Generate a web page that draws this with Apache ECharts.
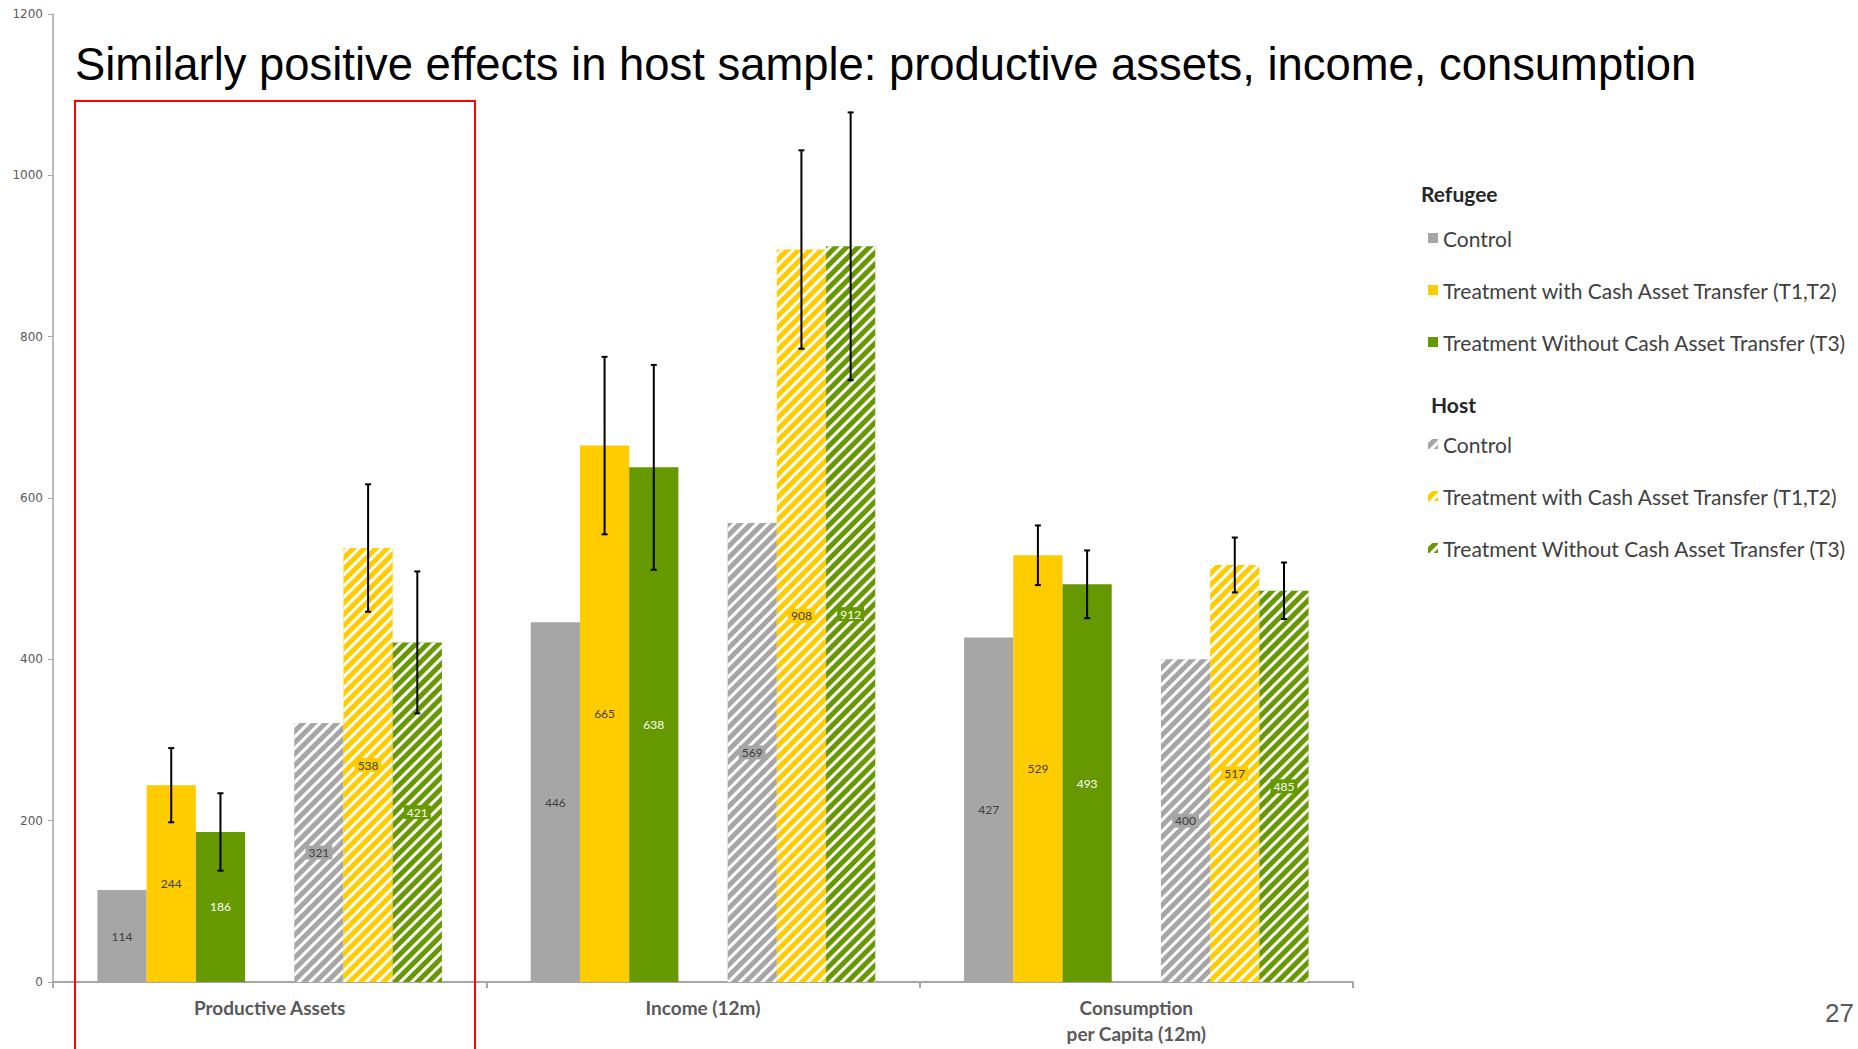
<!DOCTYPE html>
<html>
<head>
<meta charset="utf-8">
<title>Similarly positive effects in host sample</title>
<script src="https://cdn.jsdelivr.net/npm/echarts@6/dist/echarts.min.js"></script>
<style>
  html, body { margin: 0; padding: 0; background: #ffffff; }
  #chart { width: 1858px; height: 1049px; }
</style>
</head>
<body>
<div id="chart"></div>
<script>
// Outcome groups on the x axis
const categories = ['Productive Assets', 'Income (12m)', 'Consumption\nper Capita (12m)'];

// Mean values per arm
const refugeeControl = [114, 446, 427];
const refugeeCash = [244, 665, 529];
const refugeeNoCash = [186, 638, 493];
const hostControl = [321, 569, 400];
const hostCash = [538, 908, 517];
const hostNoCash = [421, 912, 485];

// Half-width of the confidence interval for each treatment arm
const refugeeCashErr = [46, 110, 37];
const refugeeNoCashErr = [48, 127, 42];
const hostCashErr = [79, 123, 34];
const hostNoCashErr = [88, 166, 35];

// Value axis
const yMin = 0;
const yMax = 1200;
const yStep = 200;

const GRAY = '#A6A6A6';
const YELLOW = '#FFCC00';
const GREEN = '#669900';
const DARK = '#404040';

const CAT_GAP = 0.205;      // share of each category left empty
const SLOTS = 7;            // 3 refugee bars, a spacer, 3 host bars

const stripes = {
  symbol: 'rect',
  symbolSize: 1,
  color: '#ffffff',
  dashArrayX: [1, 0],
  dashArrayY: [3, 5],
  rotation: -Math.PI / 4
};

function barSeries(name, data, color, textColor, hatched) {
  return {
    name: name,
    type: 'bar',
    data: data,
    barGap: '0%',
    barCategoryGap: (CAT_GAP * 100) + '%',
    itemStyle: hatched ? { color: color, decal: stripes } : { color: color },
    label: {
      show: true,
      position: 'inside',
      fontFamily: 'Lato',
      fontSize: 12,
      color: textColor,
      backgroundColor: hatched ? color : 'transparent',
      padding: hatched ? [1, 3] : 0
    },
    emphasis: { disabled: true }
  };
}

// Error bar items: [category index, bar slot, value, half-width]
const errorData = [];
function addErrors(values, errs, slot) {
  values.forEach(function (v, i) { errorData.push([i, slot, v, errs[i]]); });
}
addErrors(refugeeCash, refugeeCashErr, 1);
addErrors(refugeeNoCash, refugeeNoCashErr, 2);
addErrors(hostCash, hostCashErr, 5);
addErrors(hostNoCash, hostNoCashErr, 6);

function renderErrorBar(params, api) {
  const cat = api.value(0), slot = api.value(1), v = api.value(2), e = api.value(3);
  const band = api.size([1, 0])[0];
  const bw = band * (1 - CAT_GAP) / SLOTS;
  const cx = api.coord([cat, v])[0] + (slot - (SLOTS - 1) / 2) * bw;
  const yT = api.coord([cat, v + e])[1];
  const yB = api.coord([cat, v - e])[1];
  const cap = 3;
  const st = { stroke: '#000000', lineWidth: 2 };
  return {
    type: 'group',
    children: [
      { type: 'line', shape: { x1: cx, y1: yT, x2: cx, y2: yB }, style: st },
      { type: 'line', shape: { x1: cx - cap, y1: yT, x2: cx + cap, y2: yT }, style: st },
      { type: 'line', shape: { x1: cx - cap, y1: yB, x2: cx + cap, y2: yB }, style: st }
    ]
  };
}

const refugeeNames = ['Refugee Control', 'Refugee Treatment with Cash Asset Transfer (T1,T2)', 'Refugee Treatment Without Cash Asset Transfer (T3)'];
const hostNames = ['Host Control', 'Host Treatment with Cash Asset Transfer (T1,T2)', 'Host Treatment Without Cash Asset Transfer (T3)'];

function legendBlock(names, top) {
  return {
    data: names,
    orient: 'vertical',
    left: 1428,
    top: top,
    padding: 0,
    itemGap: 30,
    itemWidth: 10,
    itemHeight: 10,
    icon: 'rect',
    selectedMode: false,
    formatter: function (n) { return n.replace(/^(Refugee|Host) /, ''); },
    textStyle: { fontFamily: 'Lato', fontSize: 21, lineHeight: 22, color: DARK }
  };
}

const chart = echarts.init(document.getElementById('chart'), null, { renderer: 'svg' });

chart.setOption({
  animation: false,
  backgroundColor: '#ffffff',
  grid: { left: 53, right: 505, top: 14, bottom: 67, containLabel: false },
  xAxis: {
    type: 'category',
    data: categories,
    axisLine: { lineStyle: { color: GRAY, width: 2 } },
    axisTick: { show: true, length: 6, lineStyle: { color: GRAY, width: 2 } },
    axisLabel: {
      fontFamily: 'Lato',
      fontWeight: 'bold',
      fontSize: 19,
      lineHeight: 26,
      color: '#595959',
      margin: 12
    }
  },
  yAxis: {
    type: 'value',
    min: yMin,
    max: yMax,
    interval: yStep,
    splitLine: { show: false },
    axisLine: { show: true, lineStyle: { color: GRAY, width: 1.5 } },
    axisTick: { show: true, length: 5, lineStyle: { color: GRAY } },
    axisLabel: {
      fontFamily: 'DejaVu Sans', fontSize: 12, color: '#595959', margin: 10,
      formatter: function (v) { return String(v); }
    }
  },
  legend: [legendBlock(refugeeNames, 227), legendBlock(hostNames, 433)],
  series: [
    barSeries(refugeeNames[0], refugeeControl, GRAY, DARK, false),
    barSeries(refugeeNames[1], refugeeCash, YELLOW, DARK, false),
    barSeries(refugeeNames[2], refugeeNoCash, GREEN, '#ffffff', false),
    { name: 'spacer', type: 'bar', data: [null, null, null], barGap: '0%', barCategoryGap: (CAT_GAP * 100) + '%', silent: true },
    barSeries(hostNames[0], hostControl, GRAY, DARK, true),
    barSeries(hostNames[1], hostCash, YELLOW, DARK, true),
    barSeries(hostNames[2], hostNoCash, GREEN, '#ffffff', true),
    {
      name: 'ci',
      type: 'custom',
      renderItem: renderErrorBar,
      data: errorData,
      encode: { x: 0, y: 2 },
      z: 10,
      clip: false,
      silent: true
    }
  ],
  graphic: [
    {
      type: 'text',
      left: 75, top: 42,
      style: {
        text: 'Similarly positive effects in host sample: productive assets, income, consumption',
        font: '45.4px "Liberation Sans", Arial, sans-serif',
        fill: '#000000'
      }
    },
    {
      type: 'rect',
      shape: { x: 75, y: 101, width: 400, height: 1000 },
      style: { fill: 'none', stroke: '#FF0000', lineWidth: 2 },
      z: 20
    },
    {
      type: 'text',
      left: 1421, top: 183,
      style: { text: 'Refugee', font: 'bold 21px Lato', fill: '#262626' }
    },
    {
      type: 'text',
      left: 1431, top: 394,
      style: { text: 'Host', font: 'bold 21px Lato', fill: '#262626' }
    },
    {
      type: 'text',
      right: 4, top: 1000,
      style: { text: '27', font: '26px "Liberation Sans", Arial, sans-serif', fill: '#595959' }
    }
  ]
});
</script>
</body>
</html>
